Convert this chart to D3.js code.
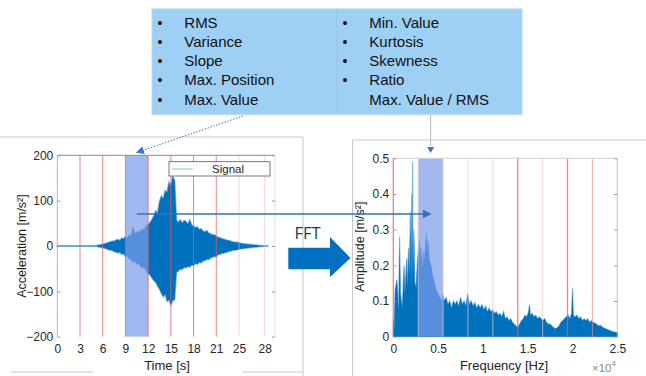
<!DOCTYPE html>
<html>
<head>
<meta charset="utf-8">
<script src="https://cdn.jsdelivr.net/npm/d3@7"></script>
<style>
  body { margin: 0; background: #fff; }
  svg text { font-family: "Liberation Sans", Arial, sans-serif; }
</style>
</head>
<body>
<div id="viz"></div>
<script>
// feature list in the box
const featuresLeft = ["RMS", "Variance", "Slope", "Max. Position", "Max. Value"];
const featuresRight = ["Min. Value", "Kurtosis", "Skewness", "Ratio"];
const ratioNote = "Max. Value / RMS";

// time signal, envelope
const sigTime = [0, 4.75,
  5, 5.25, 5.5, 5.75, 6, 6.25, 6.5, 6.75, 7, 7.25,
  7.5, 7.75, 8, 8.25, 8.5, 8.75, 9, 9.25, 9.5, 9.75,
  10, 10.25, 10.5, 10.75, 11, 11.25, 11.5, 11.75, 12, 12.25,
  12.5, 12.75, 13, 13.25, 13.5, 13.75, 14, 14.25, 14.5, 14.75,
  15, 15.25, 15.5, 15.75, 16, 16.25, 16.5, 16.75, 17, 17.25,
  17.5, 17.75, 18, 18.25, 18.5, 18.75, 19, 19.25, 19.5, 19.75,
  20, 20.25, 20.5, 20.75, 21, 21.25, 21.5, 21.75, 22, 22.25,
  22.5, 22.75, 23, 23.25, 23.5, 23.75, 24, 24.25, 24.5, 24.75,
  25, 25.25, 25.5, 25.75, 26, 26.25, 26.5, 26.75, 27, 27.25,
  27.5, 27.8];
const sigUpper = [0.4, 0.4,
  0.5, 1, 2, 3, 4, 5, 6, 8, 9, 11,
  10, 13, 14, 12, 17, 16, 20, 18, 24, 22,
  40, 27, 30, 33, 31, 38, 35, 44, 47, 52,
  58, 66, 78, 72, 98, 110, 104, 122, 118, 140,
  132, 153, 145, 56, 52, 58, 50, 56, 54, 48,
  58, 46, 44, 40, 42, 36, 38, 33, 31, 34,
  28, 27, 24, 25, 21, 19, 18, 16, 15, 14,
  12, 12, 10, 9, 8, 8, 7, 6, 5, 5,
  4, 4, 3, 3, 2, 2, 1.5, 1, 1, 0.5,
  0.5, 0.4];
const sigLower = [-0.4, -0.4,
  -0.5, -1, -2, -3, -4, -5, -6, -8, -9, -10,
  -12, -13, -15, -14, -18, -17, -23, -22, -28, -30,
  -36, -33, -40, -38, -45, -48, -46, -55, -60, -64,
  -70, -76, -80, -88, -95, -104, -112, -106, -122, -118,
  -130, -120, -118, -58, -55, -50, -52, -47, -48, -45,
  -46, -42, -43, -38, -40, -36, -37, -33, -32, -29,
  -30, -26, -25, -23, -23, -19, -18, -16, -16, -14,
  -13, -11, -11, -9, -9, -8, -7, -6, -6, -5,
  -5, -4, -4, -3, -3, -2, -2, -1, -1, -0.5,
  -0.5, -0.4];

const timeTicks = [0, 3, 6, 9, 12, 15, 18, 21, 24, 27.4];
const timeTickLabels = ["0", "3", "6", "9", "12", "15", "18", "21", "25", "28"];
const accTicks = [-200, -100, 0, 100, 200];
const timeWindow = [9, 12];

// spectrum (x 10^4 Hz)
const specFreq = [0, 0.01, 0.02, 0.04, 0.06, 0.07, 0.08, 0.10, 0.12, 0.13, 0.15, 0.16,
  0.17, 0.18, 0.19, 0.20, 0.205, 0.21, 0.215, 0.22, 0.23, 0.24, 0.255, 0.27,
  0.28, 0.29, 0.30, 0.31, 0.32, 0.33, 0.34, 0.35, 0.36, 0.37, 0.38, 0.39, 0.40,
  0.42, 0.44, 0.46, 0.48, 0.50, 0.52, 0.54,
  0.55, 0.57, 0.59, 0.61, 0.63, 0.65, 0.67, 0.69, 0.71, 0.73, 0.75, 0.77, 0.79,
  0.81, 0.83, 0.85, 0.87, 0.89, 0.91, 0.93, 0.95, 0.97, 0.99, 1.01, 1.03, 1.05,
  1.07, 1.09, 1.11, 1.13, 1.15, 1.17, 1.19, 1.21, 1.23, 1.25, 1.27, 1.29, 1.31,
  1.33, 1.35, 1.37, 1.39, 1.41, 1.43, 1.45, 1.47, 1.49, 1.51, 1.52, 1.53, 1.55,
  1.57, 1.59, 1.61, 1.63, 1.65, 1.67, 1.69, 1.71, 1.73, 1.75, 1.77, 1.79, 1.81,
  1.83, 1.85, 1.87, 1.89, 1.91, 1.93, 1.95, 1.97, 1.99, 2.00, 2.01, 2.03, 2.05,
  2.07, 2.09, 2.11, 2.13, 2.15, 2.17, 2.19, 2.21, 2.23, 2.25, 2.27, 2.29, 2.31,
  2.33, 2.35, 2.37, 2.39, 2.41, 2.43, 2.45, 2.47, 2.49, 2.50];
const specAmp = [0.05, 0.02, 0.13, 0.16, 0.07, 0.28, 0.12, 0.08, 0.20, 0.12, 0.22, 0.14,
  0.25, 0.17, 0.35, 0.14, 0.40, 0.18, 0.49, 0.17, 0.30, 0.15, 0.14, 0.22,
  0.24, 0.27, 0.21, 0.25, 0.22, 0.19, 0.24, 0.21, 0.26, 0.29, 0.23, 0.27, 0.22,
  0.20, 0.17, 0.15, 0.13, 0.12, 0.11, 0.10,
  0.12, 0.10, 0.11, 0.09, 0.10, 0.08, 0.10, 0.09, 0.10, 0.085, 0.11, 0.09, 0.10,
  0.085, 0.12, 0.09, 0.10, 0.085, 0.095, 0.08, 0.09, 0.08, 0.09, 0.075, 0.085, 0.07,
  0.08, 0.07, 0.075, 0.065, 0.07, 0.06, 0.065, 0.055, 0.07, 0.05, 0.055, 0.045, 0.05,
  0.04, 0.035, 0.03, 0.025, 0.035, 0.045, 0.05, 0.06, 0.055, 0.07, 0.09, 0.06, 0.065,
  0.055, 0.06, 0.05, 0.055, 0.05, 0.045, 0.05, 0.04, 0.035, 0.035, 0.03, 0.025, 0.022,
  0.025, 0.03, 0.04, 0.045, 0.05, 0.055, 0.06, 0.05, 0.065, 0.136, 0.06, 0.055, 0.06,
  0.05, 0.055, 0.045, 0.05, 0.045, 0.05, 0.04, 0.045, 0.04, 0.038, 0.035, 0.03, 0.032,
  0.027, 0.025, 0.022, 0.02, 0.018, 0.016, 0.014, 0.013, 0.012, 0.01];

const freqTicks = [0, 0.5, 1, 1.5, 2, 2.5];
const ampTicks = [0, 0.1, 0.2, 0.3, 0.4, 0.5];
const freqWindow = [0.2778, 0.5556];
const freqMarks = [0, 0.2778, 0.5556, 0.8333, 1.1111, 1.3889, 1.6667, 1.9444, 2.2222, 2.5];

const dark = "#0072bd", fringe = "#8dbde6";
const bandFill = "#7a9be8", bandOpacity = 0.7;
const grayLine = "#c8c8c8";

const svg = d3.select("#viz").append("svg")
  .attr("width", 646).attr("height", 376);

const defs = svg.append("defs");
function addMarker(id, color, size) {
  defs.append("marker")
    .attr("id", id)
    .attr("viewBox", "0 0 10 10")
    .attr("refX", 9).attr("refY", 5)
    .attr("markerWidth", size).attr("markerHeight", size)
    .attr("markerUnits", "userSpaceOnUse")
    .attr("orient", "auto")
    .append("path").attr("d", "M0,0L10,5L0,10Z").attr("fill", color);
}
addMarker("arrBlue", "#2e75b6", 9);
addMarker("arrDot", "#4472c4", 8);

// panel frames (screenshot edges)
const frames = svg.append("g").attr("stroke", grayLine).attr("stroke-width", 1);
frames.append("line").attr("x1", 0).attr("x2", 303).attr("y1", 137).attr("y2", 137);
frames.append("line").attr("x1", 303).attr("x2", 303).attr("y1", 137).attr("y2", 376);
frames.append("line").attr("x1", 11).attr("x2", 93).attr("y1", 372).attr("y2", 372);
frames.append("line").attr("x1", 242).attr("x2", 303).attr("y1", 372).attr("y2", 372);
frames.append("line").attr("x1", 352.5).attr("x2", 646).attr("y1", 140).attr("y2", 140);
frames.append("line").attr("x1", 352.5).attr("x2", 352.5).attr("y1", 140).attr("y2", 376);

// ---------- left: time signal ----------
const xT = d3.scaleLinear().domain([0, 28.76]).range([57.3, 275]);
const yA = d3.scaleLinear().domain([-200, 200]).range([336.7, 155.3]);

const gL = svg.append("g");
const sigArea = d3.area()
  .x((d, i) => xT(sigTime[i]))
  .y0((d, i) => yA(sigLower[i]))
  .y1((d, i) => yA(sigUpper[i]));

gL.append("path").attr("d", sigArea(sigTime))
  .attr("fill", fringe).attr("stroke", fringe).attr("stroke-width", 1.6);
gL.append("path").attr("d", sigArea(sigTime)).attr("fill", dark);

gL.append("rect")
  .attr("x", xT(timeWindow[0])).attr("y", yA(200))
  .attr("width", xT(timeWindow[1]) - xT(timeWindow[0]))
  .attr("height", yA(-200) - yA(200))
  .attr("fill", bandFill).attr("opacity", bandOpacity);

gL.selectAll("line.mark").data(timeTicks).enter().append("line")
  .attr("class", "mark")
  .attr("x1", d => xT(d)).attr("x2", d => xT(d))
  .attr("y1", yA(200)).attr("y2", yA(-200))
  .attr("stroke", (d, i) => i === 0 ? "#e07a7a" : i < 8 ? "#ec5a5a" : "#f5b5b5")
  .attr("stroke-opacity", (d, i) => i < 8 ? 0.75 : 0.6)
  .attr("stroke-width", 1);

// box
gL.append("line").attr("x1", xT(0)).attr("x2", 275).attr("y1", yA(200)).attr("y2", yA(200)).attr("stroke", "#8a8a8a");
gL.append("line").attr("x1", 275).attr("x2", 275).attr("y1", yA(200)).attr("y2", yA(-200)).attr("stroke", "#e2e2e2");

const axL = gL.append("g").attr("transform", `translate(${xT(0)},0)`)
  .call(d3.axisLeft(yA).tickValues(accTicks).tickSizeInner(-3).tickSizeOuter(0).tickPadding(4));
const axLR = gL.append("g").attr("transform", "translate(275,0)")
  .call(d3.axisRight(yA).tickValues(accTicks).tickSizeInner(-3).tickSizeOuter(0).tickFormat(""));
const axLB = gL.append("g").attr("transform", `translate(0,${yA(-200)})`)
  .call(d3.axisBottom(xT).tickValues(timeTicks).tickSizeInner(0).tickSizeOuter(0).tickPadding(8)
    .tickFormat((d, i) => timeTickLabels[i]));
[axL, axLR, axLB].forEach(a => {
  a.select(".domain").remove();
  a.selectAll("line").attr("stroke", "#9a9a9a");
  a.selectAll("text").attr("fill", "#262626").style("font-size", "12px");
});

gL.append("text").attr("transform", "translate(26,246) rotate(-90)")
  .attr("text-anchor", "middle").style("font-size", "12.5px").attr("fill", "#222")
  .text("Acceleration [m/s²]");
gL.append("text").attr("x", 167).attr("y", 370).attr("text-anchor", "middle")
  .style("font-size", "13px").attr("fill", "#222").text("Time [s]");

// legend
const leg = gL.append("g");
leg.append("rect").attr("x", 169).attr("y", 161.7).attr("width", 101).attr("height", 14.3)
  .attr("fill", "#fff").attr("stroke", "#555").attr("stroke-width", 0.8);
leg.append("line").attr("x1", 172).attr("x2", 193).attr("y1", 169).attr("y2", 169)
  .attr("stroke", fringe).attr("stroke-width", 1);
leg.append("text").attr("x", 228).attr("y", 173).attr("text-anchor", "middle")
  .style("font-size", "11.5px").attr("fill", "#222").text("Signal");

// ---------- right: spectrum ----------
const xF = d3.scaleLinear().domain([0, 2.5]).range([393.3, 617.3]);
const yF = d3.scaleLinear().domain([0, 0.5]).range([336.7, 158.3]);

const gR = svg.append("g");
const specArea = d3.area()
  .x((d, i) => xF(specFreq[i]))
  .y0(yF(0))
  .y1((d, i) => yF(specAmp[i]));
gR.append("path").attr("d", specArea(specFreq))
  .attr("fill", fringe).attr("stroke", fringe).attr("stroke-width", 1.2);
gR.append("path").attr("d", specArea(specFreq)).attr("fill", dark);

gR.append("rect")
  .attr("x", xF(freqWindow[0])).attr("y", yF(0.5))
  .attr("width", xF(freqWindow[1]) - xF(freqWindow[0]))
  .attr("height", yF(0) - yF(0.5))
  .attr("fill", bandFill).attr("opacity", bandOpacity);

const strongF = [0, 5, 7];
gR.selectAll("line.mark").data(freqMarks).enter().append("line")
  .attr("class", "mark")
  .attr("x1", d => xF(d)).attr("x2", d => xF(d))
  .attr("y1", yF(0.5)).attr("y2", yF(0))
  .attr("stroke", (d, i) => strongF.includes(i) ? "#ec5a5a" : i >= 8 ? "#ef8a8a" : "#f7c4c4")
  .attr("stroke-opacity", (d, i) => strongF.includes(i) ? 0.75 : 0.7)
  .attr("stroke-width", (d, i) => strongF.includes(i) ? 1.3 : 1);

gR.append("line").attr("x1", xF(0)).attr("x2", xF(2.5)).attr("y1", yF(0.5)).attr("y2", yF(0.5)).attr("stroke", "#d0d0d0");

const axR = gR.append("g").attr("transform", `translate(${xF(0)},0)`)
  .call(d3.axisLeft(yF).tickValues(ampTicks).tickSizeInner(-3).tickSizeOuter(0).tickPadding(4)
    .tickFormat(d => String(d)));
const axRR = gR.append("g").attr("transform", `translate(${xF(2.5)},0)`)
  .call(d3.axisRight(yF).tickValues(ampTicks).tickSizeInner(-3).tickSizeOuter(0).tickFormat(""));
const axRB = gR.append("g").attr("transform", `translate(0,${yF(0)})`)
  .call(d3.axisBottom(xF).tickValues(freqTicks).tickSizeInner(0).tickSizeOuter(0).tickPadding(8)
    .tickFormat(d => String(d)));
[axR, axRR, axRB].forEach(a => {
  a.select(".domain").remove();
  a.selectAll("line").attr("stroke", "#9a9a9a");
  a.selectAll("text").attr("fill", "#262626").style("font-size", "12px");
});

gR.append("text").attr("transform", "translate(364,246.7) rotate(-90)")
  .attr("text-anchor", "middle").style("font-size", "12.5px").attr("fill", "#222")
  .text("Amplitude [m/s²]");
gR.append("text").attr("x", 504).attr("y", 370).attr("text-anchor", "middle")
  .style("font-size", "13px").attr("fill", "#222").text("Frequency [Hz]");
const expo = gR.append("text").attr("x", 592).attr("y", 372)
  .style("font-size", "11.5px").attr("fill", "#888");
expo.append("tspan").text("×10");
expo.append("tspan").attr("dy", -6).style("font-size", "8px").text("4");

// ---------- feature box ----------
const box = svg.append("g");
box.append("rect").attr("x", 151.7).attr("y", 8.3).attr("width", 370.6).attr("height", 106.7)
  .attr("fill", "#9ecff4").attr("stroke", "#d8ecfb").attr("stroke-width", 1);
box.append("line").attr("x1", 336.7).attr("x2", 336.7).attr("y1", 9).attr("y2", 114)
  .attr("stroke", "#93c6ee");
const rowY = d3.scaleLinear().domain([0, 4]).range([27.6, 104.6]);
featuresLeft.forEach((f, i) => {
  box.append("text").attr("x", 157.5).attr("y", rowY(i)).style("font-size", "14px").attr("fill", "#111").text("•");
  box.append("text").attr("x", 184.3).attr("y", rowY(i)).style("font-size", "15px").attr("fill", "#111").text(f);
});
featuresRight.forEach((f, i) => {
  box.append("text").attr("x", 342.5).attr("y", rowY(i)).style("font-size", "14px").attr("fill", "#111").text("•");
  box.append("text").attr("x", 369.3).attr("y", rowY(i)).style("font-size", "15px").attr("fill", "#111").text(f);
});
box.append("text").attr("x", 369.3).attr("y", rowY(4)).style("font-size", "15px").attr("fill", "#111").text(ratioNote);

// ---------- connectors ----------
const tMid = d3.mean(timeWindow), fMid = d3.mean(freqWindow);
svg.append("line")
  .attr("x1", 243).attr("y1", 116).attr("x2", xT(tMid)).attr("y2", 152.5)
  .attr("stroke", "#4472c4").attr("stroke-width", 1).attr("stroke-dasharray", "1.5,1.5")
  .attr("marker-end", "url(#arrDot)");
svg.append("line")
  .attr("x1", xF(fMid)).attr("y1", 115).attr("x2", xF(fMid)).attr("y2", 146)
  .attr("stroke", "#b8b8b8").attr("stroke-width", 1);
svg.append("path")
  .attr("d", `M${xF(fMid) - 3.5},147L${xF(fMid) + 3.5},147L${xF(fMid)},153Z`)
  .attr("fill", "#4472c4");
svg.append("line")
  .attr("x1", xT(tMid)).attr("y1", 214).attr("x2", xF(fMid)).attr("y2", 214)
  .attr("stroke", "#2e75b6").attr("stroke-width", 1.3)
  .attr("marker-end", "url(#arrBlue)");

// FFT arrow
svg.append("text").attr("x", 294.5).attr("y", 238.5)
  .style("font-family", "'Open Sans', sans-serif").style("font-size", "16.5px")
  .attr("fill", "#203864").text("FFT");
svg.append("path")
  .attr("d", "M288.3,247.7L330,247.7L330,237L350.5,258L330,277L330,269.3L288.3,269.3Z")
  .attr("fill", "#0070c0");
</script>
</body>
</html>
